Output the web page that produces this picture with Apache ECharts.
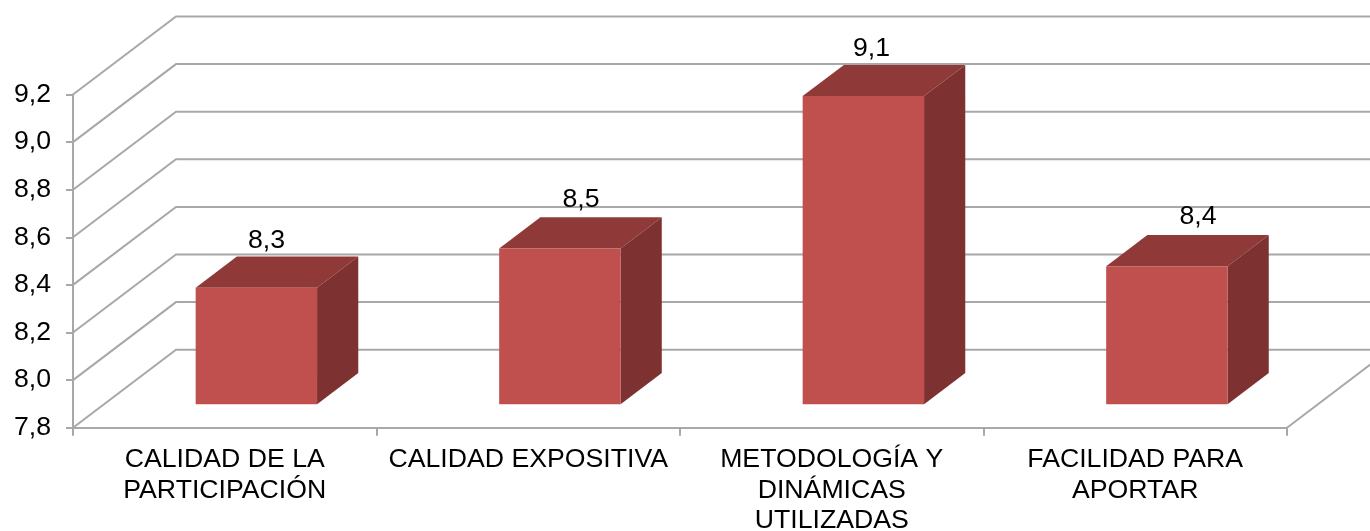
<!DOCTYPE html>
<html>
<head>
<meta charset="utf-8">
<style type="text/css">
html, body {margin: 0; padding: 0; background: #fff;}
#myChart {width: 1370px; height: 531px;}
</style>
<script src="https://cdn.jsdelivr.net/npm/echarts@6/dist/echarts.min.js"></script>
</head>
<body>
<div id="myChart"></div>
<script>
var categories = ['CALIDAD DE LA\nPARTICIPACIÓN', 'CALIDAD EXPOSITIVA', 'METODOLOGÍA Y\nDINÁMICAS\nUTILIZADAS', 'FACILIDAD PARA\nAPORTAR'];
var values = [8.29, 8.455, 9.095, 8.38];
var yTicks = [7.8, 8.0, 8.2, 8.4, 8.6, 8.8, 9.0, 9.2];

// oblique projection of the 3d box, in pixels
var DEPTH_X = 103;
var DEPTH_Y = -78;
var BAR_NEAR = 0.307; // share of the depth where the bar starts
var BAR_DEEP = 0.4;   // share of the depth the bar takes
var BAR_WIDTH = 0.4;  // share of the category band
var LINE_COLOR = '#a8a8a8';
var FONT_SIZE = 26.67;
// the labels were moved by hand in the original
var labelShift = [[-31, -16], [-20, -18], [-33, -16], [-10, -18]];

function comma(v) {
    return v.toFixed(1).replace('.', ',');
}

function renderWall(params, api) {
    var p = api.coord([0, api.value(0)]);
    var x0 = params.coordSys.x;
    var x1 = x0 + params.coordSys.width;
    var line = {stroke: LINE_COLOR, lineWidth: 2, fill: null};
    var children = [{
        type: 'polyline',
        shape: {points: [[x0, p[1]], [x0 + DEPTH_X, p[1] + DEPTH_Y], [x1 + DEPTH_X, p[1] + DEPTH_Y]]},
        style: line
    }];
    // right edge of the floor
    if (params.dataIndex === 0) {
        children.push({
            type: 'line',
            shape: {x1: x1, y1: p[1], x2: x1 + DEPTH_X, y2: p[1] + DEPTH_Y},
            style: line
        });
    }
    return {type: 'group', children: children};
}

function renderBar(params, api) {
    var i = api.value(0);
    var top = api.coord([i, api.value(1)]);
    var base = api.coord([i, yTicks[0]]);
    var w = api.size([1, 0])[0] * BAR_WIDTH;
    var sx = DEPTH_X * BAR_NEAR, sy = DEPTH_Y * 0.3;
    var dx = DEPTH_X * BAR_DEEP, dy = DEPTH_Y * BAR_DEEP;
    var l = top[0] - w / 2 + sx, r = top[0] + w / 2 + sx;
    var t = top[1] + sy, b = base[1] + sy;
    var shift = labelShift[params.dataIndex];
    return {
        type: 'group',
        children: [{
            type: 'polygon',
            shape: {points: [[l, t], [r, t], [r + dx, t + dy], [l + dx, t + dy]]},
            style: {fill: '#8f3a38'}
        }, {
            type: 'polygon',
            shape: {points: [[r, t], [r + dx, t + dy], [r + dx, b + dy], [r, b]]},
            style: {fill: '#7d3130'}
        }, {
            type: 'rect',
            shape: {x: l, y: t, width: w, height: b - t},
            style: {fill: '#c0504d'}
        }, {
            type: 'text',
            x: r + dx + shift[0] - w / 2,
            y: t + dy + shift[1],
            style: {
                text: comma(api.value(1)),
                font: FONT_SIZE + 'px "Liberation Sans", Arial, sans-serif',
                fill: '#000',
                align: 'center',
                verticalAlign: 'middle'
            }
        }]
    };
}

var myChart = echarts.init(document.getElementById('myChart'));
myChart.setOption({
    animation: false,
    backgroundColor: '#fff',
    textStyle: {fontFamily: '"Liberation Sans", Arial, sans-serif'},
    grid: {left: 73, right: 83, top: 94.5, bottom: 103.3, outerBoundsMode: 'none'},
    xAxis: {
        type: 'category',
        data: categories,
        axisLine: {lineStyle: {color: LINE_COLOR, width: 2}},
        axisTick: {show: true, length: 8, lineStyle: {color: LINE_COLOR, width: 2}},
        axisLabel: {color: '#000', fontSize: FONT_SIZE, lineHeight: 30.5, margin: 17, interval: 0}
    },
    yAxis: {
        type: 'value',
        min: yTicks[0],
        max: yTicks[yTicks.length - 1],
        interval: 0.2,
        splitLine: {show: false},
        axisLine: {show: true, lineStyle: {color: LINE_COLOR, width: 2}},
        axisTick: {show: true, length: 7, lineStyle: {color: LINE_COLOR, width: 2}},
        axisLabel: {color: '#000', fontSize: FONT_SIZE, margin: 22, formatter: comma}
    },
    series: [{
        type: 'custom',
        clip: false,
        z: 1,
        silent: true,
        renderItem: renderWall,
        encode: {y: 0},
        data: yTicks.map(function (v) { return [v]; })
    }, {
        type: 'custom',
        clip: false,
        z: 2,
        renderItem: renderBar,
        encode: {x: 0, y: 1},
        data: values.map(function (v, i) { return [i, v]; })
    }]
});
</script>
</body>
</html>
